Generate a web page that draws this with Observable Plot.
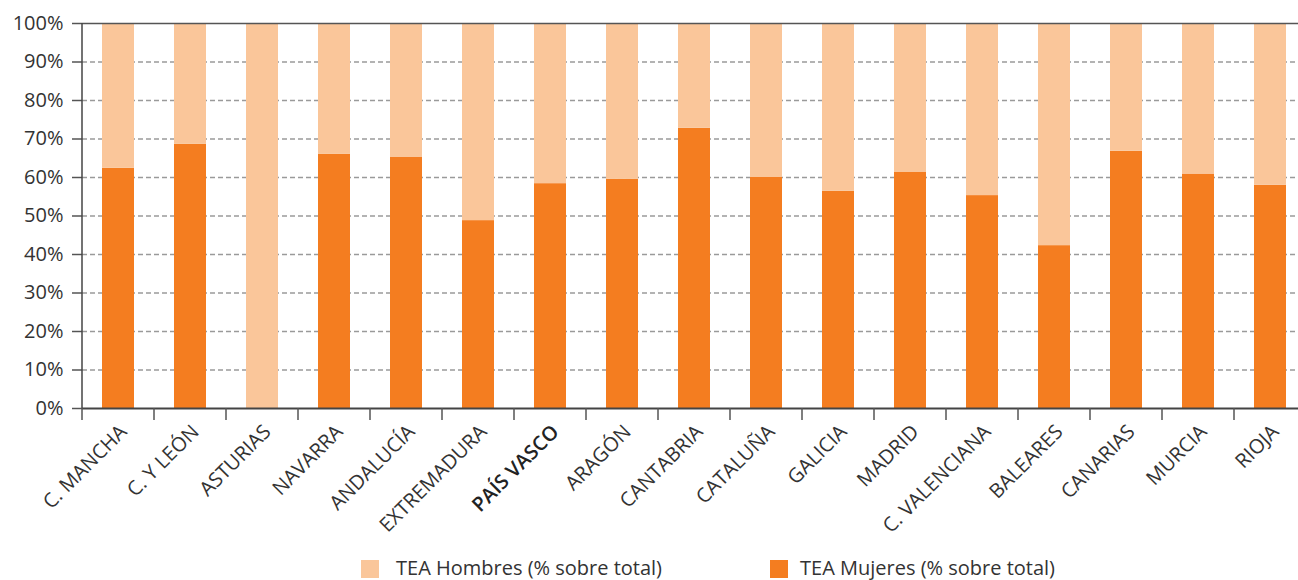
<!DOCTYPE html>
<html>
<head>
<meta charset="utf-8">
<script src="https://cdn.jsdelivr.net/npm/d3@7"></script>
<script src="https://cdn.jsdelivr.net/npm/@observablehq/plot@0.6"></script>
<style>
  html, body { margin: 0; padding: 0; background: #fff; overflow: hidden; }
  #wrap { position: relative; width: 1298px; height: 580px; font-family: "Open Sans", sans-serif; color: #333; }
  #chart svg { display: block; }
  .lg-sw { position: absolute; width: 18px; height: 18px; top: 560px; }
  .lg-tx { position: absolute; top: 555px; font-size: 20px; line-height: 26px; white-space: nowrap; color: #333; }
</style>
</head>
<body>
<div id="wrap">
  <div id="chart"></div>
  <div id="legend"></div>
</div>
<script>
const categories = ["C. MANCHA", "C. Y LEÓN", "ASTURIAS", "NAVARRA", "ANDALUCÍA", "EXTREMADURA", "PAÍS VASCO", "ARAGÓN", "CANTABRIA", "CATALUÑA", "GALICIA", "MADRID", "C. VALENCIANA", "BALEARES", "CANARIAS", "MURCIA", "RIOJA"];
const mujeres = [62.4, 68.6, 0, 66.0, 65.2, 48.8, 58.4, 59.5, 72.8, 60.0, 56.4, 61.3, 55.3, 42.3, 66.8, 60.9, 58.0];
const hombres = [37.6, 31.4, 100, 34.0, 34.8, 51.2, 41.6, 40.5, 27.2, 40.0, 43.6, 38.7, 44.7, 57.7, 33.2, 39.1, 42.0];
const seriesNames = ["TEA Mujeres (% sobre total)", "TEA Hombres (% sobre total)"];
const seriesColors = ["#F47D20", "#FAC69A"];
const yTicks = [0, 10, 20, 30, 40, 50, 60, 70, 80, 90, 100];
const gridTicks = [10, 20, 30, 40, 50, 60, 70, 80, 90];
const legendOrder = ["TEA Hombres (% sobre total)", "TEA Mujeres (% sobre total)"];

const rows = [];
categories.forEach((c, i) => {
  rows.push({region: c, series: seriesNames[0], value: mujeres[i]});
  rows.push({region: c, series: seriesNames[1], value: hombres[i]});
});

const chart = Plot.plot({
  width: 1298,
  height: 548,
  marginTop: 23,
  marginBottom: 140,
  marginLeft: 82,
  marginRight: 0,
  style: {fontFamily: "'Open Sans', sans-serif", fontSize: "20px", color: "#333", background: "white", overflow: "hidden"},
  x: {type: "band", domain: categories, range: [82, 1306], paddingInner: 0.556, paddingOuter: 0.278, label: null},
  y: {domain: [0, 100], label: null},
  color: {domain: seriesNames, range: seriesColors},
  marks: [
    Plot.ruleY(gridTicks, {stroke: "#9a9a9a", strokeWidth: 1.5, strokeDasharray: "5,3"}),
    Plot.barY(rows, {x: "region", y: "value", fill: "series"}),
    Plot.ruleY([100], {stroke: "#555", strokeWidth: 1.5}),
    Plot.ruleY([0], {stroke: "#444", strokeWidth: 2}),
    Plot.axisY({ticks: yTicks, tickFormat: d => d + "%", tickSize: 10, tickPadding: 9, stroke: "#555", strokeWidth: 1.5, fill: "#333", label: null}),
    Plot.axisX({tickSize: 0, tickRotate: -45, tickPadding: 22, dx: 5, dy: -2, fill: "#333", label: null})
  ]
});

// y axis line and category boundary ticks from the plot's own scales
const xs = chart.scale("x");
const ys = chart.scale("y");
const svg = d3.select(chart);
const x0 = xs.range[0];
svg.append("line")
  .attr("x1", x0).attr("x2", x0)
  .attr("y1", ys.apply(100)).attr("y2", ys.apply(0))
  .attr("stroke", "#444").attr("stroke-width", 1.5);
const half = (xs.step - xs.bandwidth) / 2;
categories.forEach(c => {
  const bx = xs.apply(c) - half;
  svg.append("line")
    .attr("x1", bx).attr("x2", bx)
    .attr("y1", ys.apply(0)).attr("y2", ys.apply(0) + 12)
    .attr("stroke", "#555").attr("stroke-width", 1.5);
});
// bold label for PAÍS VASCO
svg.selectAll("text").filter(function() { return this.textContent === "PAÍS VASCO"; })
  .attr("font-weight", "600").attr("fill", "#222");

document.getElementById("chart").appendChild(chart);

// legend
const legend = document.getElementById("legend");
const swLeft = [361, 770];
const txLeft = [396, 800];
legendOrder.forEach((name, i) => {
  const sw = document.createElement("div");
  sw.className = "lg-sw";
  sw.style.left = swLeft[i] + "px";
  sw.style.background = seriesColors[seriesNames.indexOf(name)];
  legend.appendChild(sw);
  const tx = document.createElement("div");
  tx.className = "lg-tx";
  tx.style.left = txLeft[i] + "px";
  tx.textContent = name;
  legend.appendChild(tx);
});
</script>
</body>
</html>
